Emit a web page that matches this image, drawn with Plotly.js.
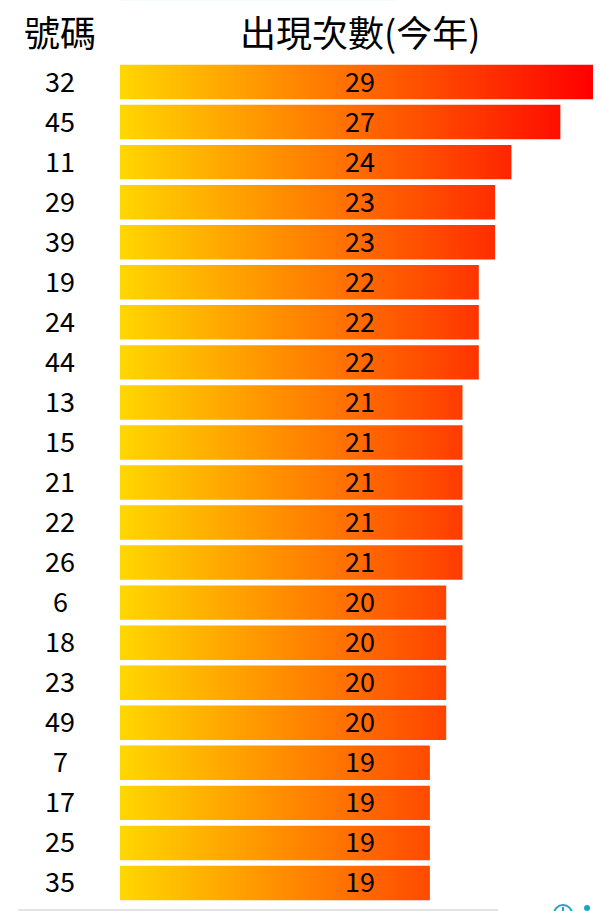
<!DOCTYPE html>
<html>
<head>
<meta charset="utf-8">
<script src="https://cdn.plot.ly/plotly-3.0.1.min.js"></script>
<style>
  html, body { margin: 0; padding: 0; background: #fff; overflow: hidden; }
</style>
</head>
<body>
<div id="chart" style="width:600px;height:911px"></div>
<script>
var numbers = ['32','45','11','29','39','19','24','44','13','15','21','22','26','6','18','23','49','7','17','25','35'];
var counts = [29,27,24,23,23,22,22,22,21,21,21,21,21,20,20,20,20,19,19,19,19];
var headers = ['號碼', '出現次數(今年)'];

var font = '"Noto Sans CJK TC", "Noto Sans", sans-serif';

var data = [{
  type: 'bar',
  orientation: 'h',
  y: numbers,
  x: counts,
  marker: { color: '#ff8000', line: { width: 0 } },
  hoverinfo: 'skip'
}];

var notes = [];
numbers.forEach(function (n, i) {
  // number on the left, count in the middle of the plot
  // numeric looking strings get read as positions on a category axis, so use the row index
  notes.push({ xref: 'paper', yref: 'y', x: -0.125, y: i, yshift: 2, text: n, showarrow: false,
    xanchor: 'center', yanchor: 'middle', font: { family: font, size: 27, color: '#000' } });
  notes.push({ xref: 'paper', yref: 'y', x: 0.5, y: i, yshift: 2, text: String(counts[i]), showarrow: false,
    xanchor: 'center', yanchor: 'middle', font: { family: font, size: 27, color: '#000' } });
});
notes.push({ xref: 'paper', yref: 'paper', x: -0.125, y: 1.0345, yshift: 2, text: headers[0], showarrow: false,
  xanchor: 'center', yanchor: 'middle', font: { family: font, size: 36, color: '#000' } });
notes.push({ xref: 'paper', yref: 'paper', x: 0.5, y: 1.0345, yshift: 2, text: headers[1], showarrow: false,
  xanchor: 'center', yanchor: 'middle', font: { family: font, size: 36, color: '#000' } });

// cut off bits of the page around the chart, in paper units of the plot area
var shapes = [
  { type: 'rect', xref: 'paper', yref: 'paper', x0: 0, x1: 0.573, y0: 1.0731, y1: 1.0761,
    fillcolor: '#eafaf7', line: { width: 0 } },
  { type: 'rect', xref: 'paper', yref: 'paper', x0: -0.2125, x1: 0.7875, y0: -0.0095, y1: -0.0071,
    fillcolor: '#e4e4e4', line: { width: 0 } },
  { type: 'circle', xref: 'paper', yref: 'paper', x0: 0.9042, x1: 0.9417, y0: -0.0238, y1: -0.0024,
    fillcolor: 'rgba(0,0,0,0)', line: { color: '#1ba6bf', width: 2 } },
  { type: 'line', xref: 'paper', yref: 'paper', x0: 0.9229, x1: 0.9229, y0: -0.0095, y1: -0.0048,
    line: { color: '#1ba6bf', width: 2 } },
  { type: 'circle', xref: 'paper', yref: 'paper', x0: 0.9667, x1: 0.9792, y0: -0.0095, y1: -0.0024,
    fillcolor: '#1ba6bf', line: { width: 0 } }
];

var layout = {
  width: 600,
  height: 911,
  margin: { l: 120, r: 0, t: 62, b: 8, pad: 0 },
  paper_bgcolor: '#fff',
  plot_bgcolor: '#fff',
  bargap: 0.14,
  showlegend: false,
  xaxis: { range: [0, 29.43], visible: false, fixedrange: true },
  yaxis: { type: 'category', range: [numbers.length - 0.5, -0.5], showticklabels: false, showgrid: false,
    zeroline: false, showline: false, ticks: '', fixedrange: true },
  annotations: notes,
  shapes: shapes
};

Plotly.newPlot('chart', data, layout, { displayModeBar: false, staticPlot: true }).then(function (gd) {
  // plotly bars have no gradient fill, so swap it in on the drawn bars
  var xa = gd._fullLayout.xaxis;
  var svg = gd.querySelector('.main-svg');
  var ns = 'http://www.w3.org/2000/svg';
  var grad = document.createElementNS(ns, 'linearGradient');
  grad.setAttribute('id', 'barFill');
  grad.setAttribute('gradientUnits', 'userSpaceOnUse');
  grad.setAttribute('x1', xa.l2p(0));
  grad.setAttribute('x2', xa.l2p(counts[0]));
  grad.setAttribute('y1', 0);
  grad.setAttribute('y2', 0);
  [['0', '#ffd700'], ['1', '#ff0000']].forEach(function (s) {
    var stop = document.createElementNS(ns, 'stop');
    stop.setAttribute('offset', s[0]);
    stop.setAttribute('stop-color', s[1]);
    grad.appendChild(stop);
  });
  svg.querySelector('defs').appendChild(grad);
  gd.querySelectorAll('.bars .point path').forEach(function (p) {
    p.style.fill = 'url(#barFill)';
  });
});
</script>
</body>
</html>
